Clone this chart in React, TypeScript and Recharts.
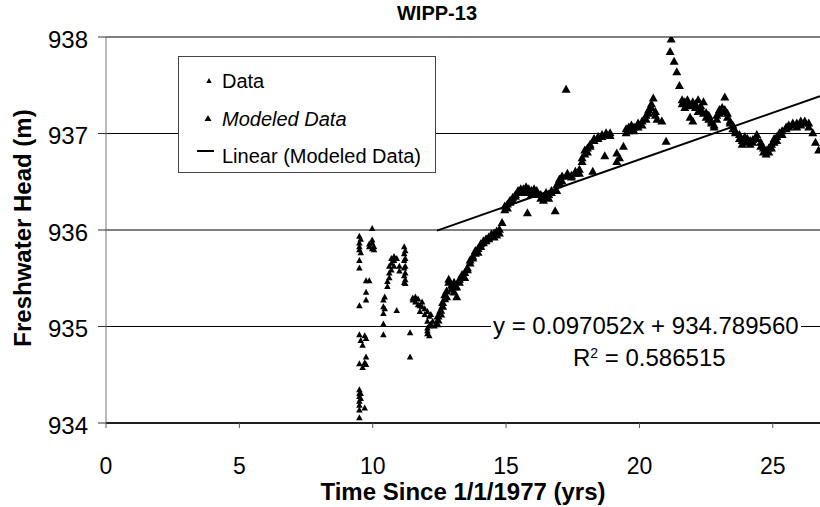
import React from 'react';
import { ScatterChart, Scatter, XAxis, YAxis, CartesianGrid, ReferenceLine } from 'recharts';

const FONT = '"Liberation Sans", Arial, Helvetica, sans-serif';

const chartTitle = 'WIPP-13';
const xTitle = 'Time Since 1/1/1977 (yrs)';
const yTitle = 'Freshwater Head (m)';
const xTicks = [0, 5, 10, 15, 20, 25];
const yTicks = [934, 935, 936, 937, 938];
const xMax = 26.77;
const legendLabels = ['Data', 'Modeled Data', 'Linear (Modeled Data)'];

// Linear trendline of the modeled data (as printed on the chart)
const trendSlope = 0.097052;
const trendIntercept = 934.78956;
const trendStart = 12.41;
const equationText = 'y = 0.097052x + 934.789560';
const r2Text = '0.586515';

// "Data" series (small markers), [time (yrs), head (m)]
const dataEarly: [number, number][] = [
  [9.5, 935.93], [9.5, 935.86], [9.5, 935.82], [9.5, 935.79], [9.5, 935.68], [9.5, 935.6],
  [9.5, 935.21], [9.5, 934.91], [9.5, 934.61], [9.5, 934.34], [9.5, 934.3], [9.5, 934.27],
  [9.5, 934.22], [9.5, 934.18], [9.5, 934.13], [9.5, 934.05],
  [9.55, 935.9], [9.55, 935.76], [9.55, 934.85], [9.55, 934.3], [9.55, 934.25],
  [9.62, 934.8], [9.62, 934.57], [9.7, 934.9], [9.7, 934.62], [9.7, 934.15],
  [9.75, 935.47], [9.75, 935.35], [9.75, 935.27], [9.75, 934.87], [9.75, 934.68], [9.75, 934.6],
  [9.87, 935.47], [9.87, 935.82], [9.87, 935.85],
  [9.98, 936.01], [9.98, 935.89], [9.98, 935.8], [9.98, 935.86], [10.05, 935.82], [10.05, 935.79],
];
const dataMid: [number, number][] = [
  [10.4, 935.27], [10.4, 935.2], [10.4, 935.13], [10.4, 935.02], [10.4, 934.91],
  [10.45, 935.3], [10.45, 935.18], [10.55, 935.46], [10.55, 935.41],
  [10.62, 935.62], [10.62, 935.55], [10.62, 935.5], [10.7, 935.7], [10.7, 935.65], [10.7, 935.58],
  [10.8, 935.72], [10.8, 935.68], [10.8, 935.62], [10.9, 935.7], [10.9, 935.16],
  [11.0, 935.62], [11.0, 935.57],
  [11.18, 935.82], [11.18, 935.75], [11.18, 935.68], [11.18, 935.6], [11.18, 935.52], [11.18, 935.45],
  [11.22, 935.78], [11.22, 935.7], [11.22, 935.62], [11.22, 935.55], [11.22, 935.48], [11.22, 935.44],
  [11.4, 934.93], [11.4, 934.68],
];
const dataLate: [number, number][] = [
  [11.5, 935.29], [11.5, 935.27], [11.6, 935.3], [11.6, 935.25], [11.7, 935.28], [11.7, 935.22],
  [11.77, 935.21], [11.77, 935.15], [11.85, 935.25], [11.85, 935.2], [11.95, 935.18], [11.95, 935.12],
  [12.05, 935.15], [12.05, 935.05], [12.05, 934.98], [12.05, 934.92], [12.05, 934.95],
  [12.12, 935.1], [12.12, 935.0], [12.12, 934.9], [12.18, 935.12], [12.18, 935.02],
  [12.25, 935.05], [12.32, 935.0],
];

// "Modeled Data" series (large markers)
const modeledA: [number, number][] = [
  [12.41, 935.02], [12.45, 935.06], [12.45, 935.1], [12.55, 935.12], [12.55, 935.16],
  [12.62, 935.2], [12.62, 935.24], [12.7, 935.28], [12.7, 935.32], [12.77, 935.3], [12.77, 935.36],
  [12.85, 935.45], [12.85, 935.48], [12.95, 935.42], [12.95, 935.38],
  [13.05, 935.45], [13.05, 935.4], [13.05, 935.35], [13.15, 935.4], [13.15, 935.3],
  [13.25, 935.45], [13.25, 935.48], [13.35, 935.5], [13.35, 935.53], [13.45, 935.55], [13.45, 935.5],
  [13.55, 935.58], [13.55, 935.6], [13.65, 935.65], [13.65, 935.68], [13.75, 935.72], [13.75, 935.7],
  [13.85, 935.75], [13.85, 935.78], [13.95, 935.8], [13.95, 935.76], [14.05, 935.82], [14.05, 935.85],
  [14.15, 935.88], [14.15, 935.86], [14.25, 935.9], [14.25, 935.88], [14.35, 935.92], [14.35, 935.9],
  [14.45, 935.93], [14.45, 935.95], [14.55, 935.96], [14.55, 935.92], [14.65, 935.94], [14.65, 935.98],
  [14.75, 935.96], [14.75, 936.0], [14.85, 936.07],
];
const modeledB: [number, number][] = [
  [14.95, 936.2], [14.95, 936.24], [15.05, 936.26], [15.05, 936.22], [15.15, 936.3], [15.15, 936.28],
  [15.25, 936.33], [15.25, 936.3], [15.35, 936.36], [15.35, 936.34], [15.45, 936.38], [15.45, 936.4],
  [15.55, 936.4], [15.55, 936.42], [15.65, 936.42], [15.65, 936.38], [15.8, 936.17],
  [15.75, 936.4], [15.75, 936.44], [15.85, 936.42], [15.85, 936.38], [15.95, 936.4], [15.95, 936.36],
  [16.05, 936.38], [16.05, 936.42], [16.15, 936.36], [16.15, 936.4], [16.3, 936.32], [16.3, 936.36],
  [16.4, 936.34], [16.4, 936.3], [16.5, 936.36], [16.5, 936.38], [16.6, 936.32], [16.6, 936.36],
  [16.7, 936.38], [16.7, 936.4], [16.84, 936.19], [16.9, 936.4], [16.9, 936.46],
  [17.0, 936.48], [17.0, 936.52], [17.1, 936.55], [17.1, 936.5], [17.25, 937.45],
  [17.3, 936.55], [17.3, 936.58], [17.45, 936.56], [17.45, 936.54], [17.6, 936.58], [17.6, 936.6],
  [17.75, 936.62], [17.75, 936.58], [17.85, 936.7], [17.85, 936.74], [17.95, 936.78], [17.95, 936.82],
  [18.05, 936.84], [18.05, 936.8], [18.15, 936.88], [18.15, 936.86], [18.25, 936.6],
  [18.3, 936.92], [18.3, 936.94], [18.45, 936.96], [18.45, 936.94], [18.6, 936.98], [18.6, 936.96],
  [18.7, 936.76], [18.75, 937.0], [18.75, 936.98], [18.9, 937.0], [18.9, 936.97],
  [19.15, 936.7], [19.15, 936.79], [19.25, 936.74], [19.4, 936.86],
];
const modeledC: [number, number][] = [
  [19.5, 937.0], [19.5, 937.04], [19.6, 937.02], [19.6, 937.06], [19.7, 937.04], [19.7, 937.08],
  [19.8, 937.06], [19.8, 937.02], [19.95, 937.1], [19.95, 937.06], [20.1, 937.12], [20.1, 937.08],
  [20.25, 937.18], [20.25, 937.14], [20.35, 937.24], [20.35, 937.2], [20.45, 937.3], [20.45, 937.26],
  [20.52, 937.36], [20.6, 937.22], [20.6, 937.18], [20.66, 937.14], [20.84, 937.12], [21.0, 936.91],
  [21.15, 937.84], [21.19, 937.97], [21.3, 937.74], [21.4, 937.63], [21.5, 937.49],
  [21.6, 937.34], [21.6, 937.3], [21.7, 937.32], [21.7, 937.26], [21.8, 937.3], [21.8, 937.34],
  [21.9, 937.16], [21.9, 937.28], [22.0, 937.12], [22.0, 937.32], [22.1, 937.3], [22.1, 937.26],
  [22.2, 937.34], [22.2, 937.22], [22.3, 937.28], [22.3, 937.24], [22.4, 937.32], [22.4, 937.2],
  [22.5, 937.21], [22.5, 937.16], [22.6, 937.14], [22.6, 937.18], [22.7, 937.1], [22.7, 937.12],
  [22.8, 937.08], [22.8, 937.06], [22.9, 937.18], [22.9, 937.14], [23.0, 937.2], [23.0, 937.24],
  [23.1, 937.22], [23.1, 937.26], [23.2, 937.37], [23.2, 937.24],
];
const modeledD: [number, number][] = [
  [23.3, 937.2], [23.3, 937.16], [23.4, 937.12], [23.4, 937.1], [23.5, 937.08], [23.5, 937.04],
  [23.6, 937.02], [23.6, 937.0], [23.75, 936.98], [23.75, 936.94], [23.85, 936.88], [23.85, 936.92],
  [23.95, 936.92], [23.95, 936.96], [24.05, 936.94], [24.05, 936.9], [24.15, 936.92], [24.15, 936.88],
  [24.25, 936.9], [24.25, 936.93], [24.4, 936.98], [24.4, 936.94], [24.55, 936.86], [24.55, 936.9],
  [24.65, 936.8], [24.65, 936.84], [24.75, 936.78], [24.75, 936.82], [24.85, 936.8], [24.85, 936.84],
  [24.95, 936.84], [24.95, 936.88], [25.05, 936.9], [25.05, 936.94], [25.15, 936.96], [25.15, 936.92],
  [25.25, 937.0], [25.25, 936.98], [25.35, 937.02], [25.35, 936.98], [25.5, 937.04], [25.5, 937.06],
  [25.6, 937.06], [25.6, 937.08], [25.75, 937.08], [25.75, 937.1], [25.9, 937.1], [25.9, 937.06],
  [26.05, 937.12], [26.05, 937.08], [26.2, 937.1], [26.2, 937.12], [26.35, 937.1], [26.35, 937.06],
  [26.5, 937.0], [26.6, 936.9], [26.72, 936.82],
];

const toRows = (pts: [number, number][]) => pts.map(([t, h]) => ({ t, h }));
const dataRows = toRows([...dataEarly, ...dataMid, ...dataLate]);
const modeledRows = toRows([...modeledA, ...modeledB, ...modeledC, ...modeledD]);

const triangle = (w: number, h: number) => (props: any) => {
  const { cx, cy } = props;
  if (cx == null || cy == null) return null;
  const pts = `${cx},${cy - (2 * h) / 3} ${cx - w / 2},${cy + h / 3} ${cx + w / 2},${cy + h / 3}`;
  return <polygon points={pts} fill="#000" />;
};

const LegendBox = () => (
  <div
    style={{
      position: 'absolute',
      left: 178,
      top: 56,
      width: 256,
      height: 115,
      border: '1px solid #444',
      background: '#fff',
      fontFamily: FONT,
      fontSize: 20,
      color: '#000',
    }}
  >
    <svg width={40} height={115} style={{ position: 'absolute', left: 0, top: 0 }}>
      <polygon points="30,21 27.3,26 32.7,26" fill="#000" />
      <polygon points="29,58 25.5,64 32.5,64" fill="#000" />
      <line x1={18} x2={35} y1={94} y2={94} stroke="#000" strokeWidth={2} />
    </svg>
    <div style={{ position: 'absolute', left: 43, top: 12, lineHeight: '24px', whiteSpace: 'nowrap' }}>{legendLabels[0]}</div>
    <div style={{ position: 'absolute', left: 43, top: 50, lineHeight: '24px', fontStyle: 'italic', whiteSpace: 'nowrap' }}>{legendLabels[1]}</div>
    <div style={{ position: 'absolute', left: 43, top: 87, lineHeight: '24px', whiteSpace: 'nowrap' }}>{legendLabels[2]}</div>
  </div>
);

const XTitle = (props: any) => {
  const vb = props.viewBox;
  return (
    <text x={vb.x + vb.width / 2} y={500} textAnchor="middle" fontFamily={FONT} fontWeight="bold" fontSize={24} fill="#000">
      {xTitle}
    </text>
  );
};

const YTitle = (props: any) => {
  const vb = props.viewBox;
  return (
    <text
      transform={`translate(31, ${vb.y + vb.height / 2 - 2}) rotate(-90)`}
      textAnchor="middle"
      fontFamily={FONT}
      fontWeight="bold"
      fontSize={24}
      fill="#000"
    >
      {yTitle}
    </text>
  );
};

export default function App() {
  return (
    <div style={{ position: 'absolute', left: 0, top: 0, width: 820, height: 507, background: '#fff', overflow: 'hidden' }}>
      <ScatterChart width={820} height={507} margin={{ top: 37, right: 0, bottom: 0, left: 0 }}>
        <CartesianGrid vertical={false} stroke="#000" strokeWidth={1} />
        <XAxis
          type="number"
          dataKey="t"
          domain={[0, xMax]}
          ticks={xTicks}
          allowDataOverflow
          height={84}
          tickSize={5}
          tickMargin={30}
          axisLine={{ stroke: '#000', strokeWidth: 1.5 }}
          tickLine={{ stroke: '#555' }}
          tick={{ fill: '#000', fontSize: 23, fontFamily: FONT }}
          label={<XTitle />}
        />
        <YAxis
          type="number"
          dataKey="h"
          domain={[934, 938]}
          ticks={yTicks}
          allowDataOverflow
          width={106}
          tickSize={8}
          tickMargin={10}
          axisLine={{ stroke: '#777', strokeWidth: 1 }}
          tickLine={{ stroke: '#333' }}
          tick={{ fill: '#000', fontSize: 24, fontFamily: FONT, dy: 2 }}
          label={<YTitle />}
        />
        <ReferenceLine
          segment={[
            { x: trendStart, y: trendSlope * trendStart + trendIntercept },
            { x: xMax, y: trendSlope * xMax + trendIntercept },
          ]}
          stroke="#000"
          strokeWidth={2}
          ifOverflow="visible"
        />
        <Scatter name="Data" data={dataRows} shape={triangle(6.5, 6)} isAnimationActive={false} />
        <Scatter name="Modeled Data" data={modeledRows} shape={triangle(9, 8)} isAnimationActive={false} />
      </ScatterChart>
      <LegendBox />
      <div
        style={{
          position: 'absolute',
          left: 0,
          width: 874,
          top: 2,
          textAlign: 'center',
          fontFamily: FONT,
          fontWeight: 'bold',
          fontSize: 20,
          color: '#000',
        }}
      >
        {chartTitle}
      </div>
      <div
        style={{
          position: 'absolute',
          left: 491,
          top: 312,
          padding: '0 2px',
          background: '#fff',
          fontFamily: FONT,
          fontSize: 24,
          lineHeight: '28px',
          color: '#000',
          whiteSpace: 'nowrap',
        }}
      >
        {equationText}
      </div>
      <div
        style={{
          position: 'absolute',
          left: 573,
          top: 344,
          fontFamily: FONT,
          fontSize: 24,
          lineHeight: '28px',
          color: '#000',
          whiteSpace: 'nowrap',
        }}
      >
        R<sup style={{ fontSize: 14, verticalAlign: 'top', lineHeight: '18px' }}>2</sup> = {r2Text}
      </div>
    </div>
  );
}
